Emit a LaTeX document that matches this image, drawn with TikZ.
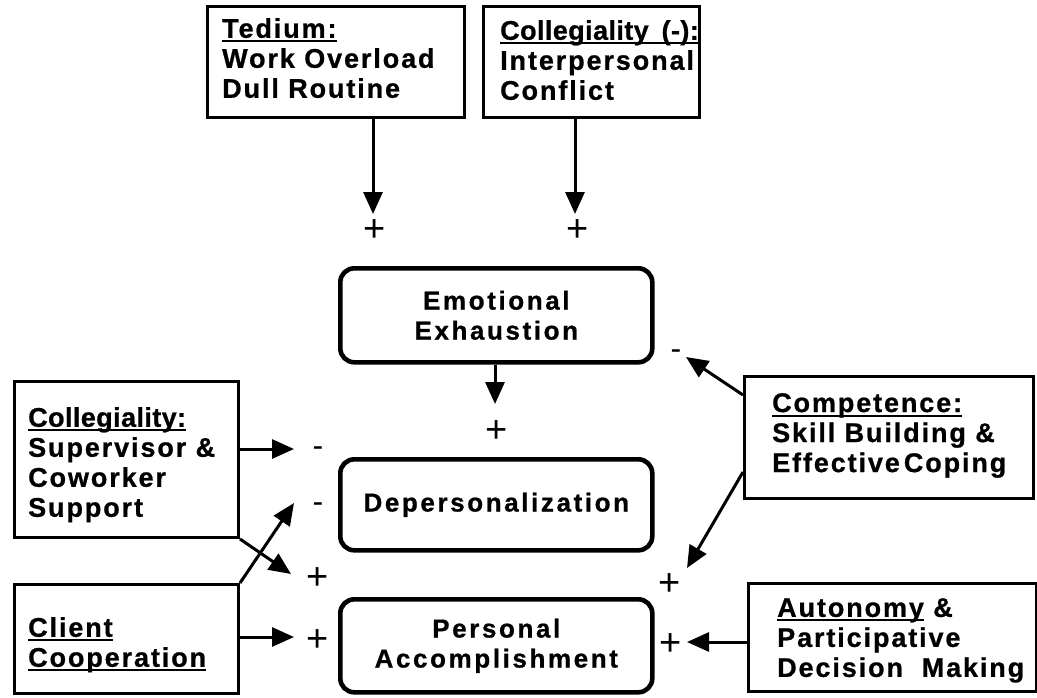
\documentclass[tikz,border=0pt]{standalone}
\usepackage{fontspec}
\usetikzlibrary{arrows.meta}
\newfontfamily\lab{Liberation Sans Bold}[LetterSpace=7,FakeBold=0.8]
\newfontfamily\labtight{Liberation Sans Bold}[LetterSpace=1.5,FakeBold=0.8]
\newfontfamily\cen{Liberation Sans Bold}[LetterSpace=10,FakeBold=0.8]
\newfontfamily\sgn{Liberation Sans}
% underline set a little below the baseline, crossing the descenders
\newcommand\ulx[1]{\setbox0\hbox{#1}\rlap{\rule[-4.5pt]{\wd0}{2pt}}\box0\relax}
\tikzset{
  box/.style={draw, line width=3pt, inner sep=0pt, anchor=north west},
  core/.style={draw, line width=4.6pt, rounded corners=14pt, inner sep=0pt,
    anchor=north west, align=center,
    font=\cen\fontsize{26}{30}\selectfont},
  txt/.style={anchor=north west, inner sep=0pt, align=left,
    font=\lab\fontsize{27}{30}\selectfont},
  plus/.style={inner sep=0pt, font=\sgn\fontsize{38}{38}\selectfont},
  minus/.style={inner sep=0pt, font=\sgn\fontsize{32}{32}\selectfont},
  arr/.style={line width=3pt, -{Triangle[length=22pt,width=19pt]}},
}
\begin{document}
\begin{tikzpicture}[x=1pt,y=-1pt]
\useasboundingbox (0,0) rectangle (1037,697);

% outer factor boxes
\node[box, minimum width=257pt, minimum height=111pt] (tedium) at (206,5) {};
\node[txt] (tediumtxt) at (222,18) {\ulx{Tedium:}\\Work Overload\\Dull Routine};

\node[box, minimum width=216pt, minimum height=111pt] (conflict) at (482,5) {};
\node[txt] (conflicttxt) at (500,20) {\ulx{\labtight Collegiality\hspace{5pt} (-):}\\Interpersonal\\Conflict};

\node[box, minimum width=224pt, minimum height=156pt] (support) at (13,380) {};
\node[txt] (supporttxt) at (28,407) {\ulx{\labtight Collegiality:}\\Supervisor \&\\Coworker\\Support};

\node[box, minimum width=224pt, minimum height=109pt] (client) at (13,583) {};
\node[txt] (clienttxt) at (28,617) {\ulx{Client}\\\ulx{Cooperation}};

\node[box, minimum width=289pt, minimum height=122pt] (competence) at (743,375) {};
\node[txt] (competencetxt) at (772,393) {\ulx{Competence:}\\Skill Building \&\\Effective\hspace{4pt}Coping};

\node[box, minimum width=288pt, minimum height=108pt] (autonomy) at (747,582) {};
\node[txt] (autonomytxt) at (777,598) {\ulx{Autonomy} \&\\Participative\\Decision\ \ Making};

% burnout dimensions
\node[core, minimum width=312pt, minimum height=94pt] (ee) at (338,266) {Emotional\\Exhaustion};
\node[core, minimum width=312pt, minimum height=91pt] (dp) at (338,457) {Depersonalization};
\node[core, minimum width=312pt, minimum height=93pt] (pa) at (338,597) {Personal\\Accomplishment};

% signs of the effects
\node[plus] (s1) at (375,231) {+};
\node[plus] (s2) at (578,231) {+};
\node[plus] (s3) at (497,432) {+};
\node[minus] (s4) at (318,452) {-};
\node[minus] (s5) at (318,508) {-};
\node[plus] (s6) at (318,579) {+};
\node[plus] (s7) at (318,641) {+};
\node[minus] (s8) at (676,355) {-};
\node[plus] (s9) at (670,585) {+};
\node[plus] (s10) at (671,645) {+};

% arrow tips
\coordinate (t1) at (373,214);
\coordinate (t2) at (575,214);
\coordinate (t3) at (495,404);
\coordinate (t4) at (294,449);
\coordinate (t5) at (291,574);
\coordinate (t6) at (294,503);
\coordinate (t7) at (294,637);
\coordinate (t8) at (686,357);
\coordinate (t9) at (687,568);
\coordinate (t10) at (687,642);
\coordinate (c1) at (743,395);
\coordinate (c2) at (743,472);

\draw[arr] (tedium.south -| t1) -- (t1);
\draw[arr] (conflict.south -| t2) -- (t2);
\draw[arr] (ee.south -| t3) -- (t3);
\draw[arr] (support.east |- t4) -- (t4);
\draw[arr] (support.south east) -- (t5);
\draw[arr] (client.north east) -- (t6);
\draw[arr] (client.east |- t7) -- (t7);
\draw[arr] (competence.west |- c1) -- (t8);
\draw[arr] (competence.west |- c2) -- (t9);
\draw[arr] (autonomy.west |- t10) -- (t10);
\end{tikzpicture}
\end{document}
